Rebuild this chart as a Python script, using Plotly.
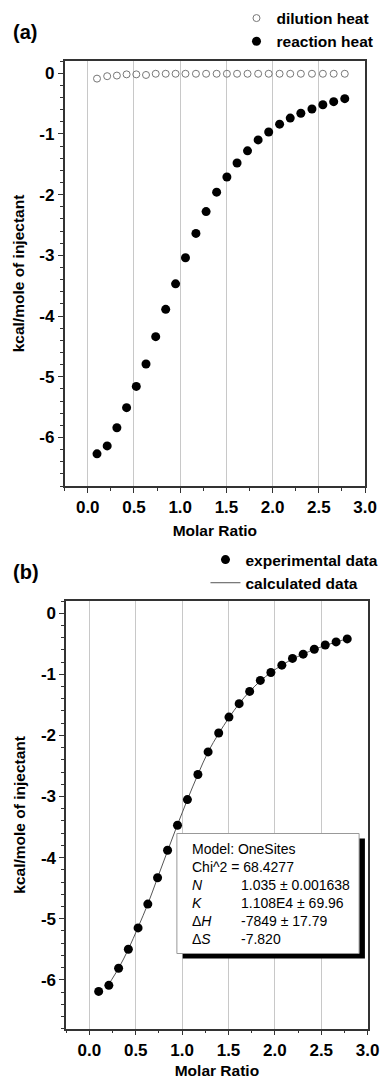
import plotly.graph_objects as go

# ---------------- data ----------------
molar_ratio = [0.100, 0.210, 0.315, 0.420, 0.525, 0.630, 0.735, 0.843, 0.950,
               1.057, 1.170, 1.280, 1.394, 1.505, 1.615, 1.728, 1.843, 1.957,
               2.075, 2.190, 2.305, 2.425, 2.543, 2.660, 2.780]
dilution_heat = [-0.09, -0.05, -0.04, -0.02, -0.02, -0.03, -0.01, -0.01, -0.01,
                 -0.01, -0.01, -0.01, -0.01, -0.01, -0.01, -0.01, -0.01, -0.01,
                 -0.01, -0.01, -0.01, -0.01, -0.01, -0.01, -0.01]
reaction_heat = [-6.27, -6.14, -5.84, -5.51, -5.16, -4.79, -4.34, -3.89, -3.47,
                 -3.04, -2.64, -2.28, -1.96, -1.71, -1.48, -1.28, -1.10, -0.97,
                 -0.84, -0.74, -0.66, -0.59, -0.52, -0.47, -0.42]
experimental_data = [-6.19, -6.09, -5.81, -5.50, -5.15, -4.76, -4.33, -3.88, -3.47,
                     -3.05, -2.64, -2.27, -1.96, -1.70, -1.48, -1.28, -1.10, -0.97,
                     -0.85, -0.74, -0.67, -0.59, -0.52, -0.47, -0.42]
calc_ratio = molar_ratio[1:]
calculated_data = [-6.07, -5.81, -5.50, -5.14, -4.76, -4.33, -3.89, -3.46,
                   -3.05, -2.64, -2.27, -1.97, -1.71, -1.48, -1.28, -1.11, -0.97,
                   -0.85, -0.75, -0.67, -0.59, -0.53, -0.47, -0.42]

x_tickvals = [0.0, 0.5, 1.0, 1.5, 2.0, 2.5, 3.0]
x_ticktext = ["0.0", "0.5", "1.0", "1.5", "2.0", "2.5", "3.0"]
y_tickvals = [0, -1, -2, -3, -4, -5, -6]
y_ticktext = ["0", "-1", "-2", "-3", "-4", "-5", "-6"]

fit_labels = ["Model: OneSites", "Chi^2 = 68.4277", "<i>N</i>", "<i>K</i>",
              "Δ<i>H</i>", "Δ<i>S</i>"]
fit_values = ["", "", "1.035 ± 0.001638", "1.108E4 ± 69.96",
              "-7849 ± 17.79", "-7.820"]

# ---------------- layout helpers ----------------
W, H = 390, 1081
FONT = "Liberation Sans, Arial, sans-serif"
AX = "#333333"


def px(x):
    return x / W


def py(y):
    return 1 - y / H


fig = go.Figure()

# panel (a)
fig.add_trace(go.Scatter(x=molar_ratio, y=dilution_heat, mode="markers",
                         name="dilution heat", xaxis="x", yaxis="y",
                         legend="legend",
                         marker=dict(symbol="circle-open", size=7,
                                     color="#777777", line=dict(width=1))))
fig.add_trace(go.Scatter(x=molar_ratio, y=reaction_heat, mode="markers",
                         name="reaction heat", xaxis="x", yaxis="y",
                         legend="legend",
                         marker=dict(symbol="circle", size=9, color="black")))

# panel (b)
fig.add_trace(go.Scatter(x=calc_ratio, y=calculated_data, mode="lines",
                         name="calculated data", xaxis="x2", yaxis="y2",
                         legend="legend2", legendrank=2,
                         line=dict(color="#555555", width=1, shape="spline")))
fig.add_trace(go.Scatter(x=molar_ratio, y=experimental_data, mode="markers",
                         name="experimental data", xaxis="x2", yaxis="y2",
                         legend="legend2", legendrank=1,
                         marker=dict(symbol="circle", size=9, color="black")))

tickfont = dict(family=FONT, size=17, color="black", weight="bold")
titlefont = dict(family=FONT, size=15.5, color="black", weight="bold")


def xaxis(domain, anchor, standoff):
    return dict(domain=domain, anchor=anchor, range=[-0.25, 3.0],
                tickmode="array", tickvals=x_tickvals, ticktext=x_ticktext,
                ticks="outside", ticklen=5, tickwidth=1.2, tickcolor=AX,
                minor=dict(tickmode="linear", tick0=0, dtick=0.25,
                           ticks="outside", ticklen=3, tickwidth=1.2,
                           tickcolor=AX, showgrid=False),
                showline=True, linecolor=AX, linewidth=1.5, mirror=True,
                showgrid=True, gridcolor="#c8c8c8", gridwidth=1,
                zeroline=False, tickfont=tickfont,
                title=dict(text="Molar Ratio", font=titlefont,
                           standoff=standoff))


def yaxis(domain, anchor):
    return dict(domain=domain, anchor=anchor, range=[-6.8, 0.2],
                tickmode="array", tickvals=y_tickvals, ticktext=y_ticktext,
                ticks="outside", ticklen=5, tickwidth=1.2, tickcolor=AX,
                minor=dict(tickmode="linear", tick0=0, dtick=0.2,
                           ticks="outside", ticklen=3, tickwidth=1.2,
                           tickcolor=AX, showgrid=False),
                showline=True, linecolor=AX, linewidth=1.5, mirror=True,
                showgrid=False, zeroline=False, tickfont=tickfont,
                title=dict(text="kcal/mole of injectant", font=titlefont,
                           standoff=11))


def top_axis(over, anchor):
    return dict(overlaying=over, anchor=anchor, side="top", range=[-0.25, 3.0],
                tickmode="array", tickvals=x_tickvals, showticklabels=False,
                ticks="inside", ticklen=5, tickwidth=1.2, tickcolor=AX,
                minor=dict(tickmode="linear", tick0=0, dtick=0.25,
                           ticks="inside", ticklen=3, tickwidth=1.2,
                           tickcolor=AX),
                showgrid=False, zeroline=False, showline=False)


def right_axis(over, anchor):
    return dict(overlaying=over, anchor=anchor, side="right", range=[-6.8, 0.2],
                tickmode="array", tickvals=y_tickvals, showticklabels=False,
                ticks="inside", ticklen=5, tickwidth=1.2, tickcolor=AX,
                minor=dict(tickmode="linear", tick0=0, dtick=0.2,
                           ticks="inside", ticklen=3, tickwidth=1.2,
                           tickcolor=AX),
                showgrid=False, zeroline=False, showline=False)


dom_ax = [px(66.7), px(376.7)]
dom_ay = [py(486), py(61)]
dom_bx = [px(68.3), px(379.3)]
dom_by = [py(1028.7), py(601)]

legend_font = dict(family=FONT, size=15.5, color="black", weight="bold")

fig.update_layout(
    width=W, height=H,
    margin=dict(l=0, r=0, t=0, b=0),
    paper_bgcolor="white", plot_bgcolor="white",
    font=dict(family=FONT, color="black"),
    xaxis=xaxis(dom_ax, "y", 9),
    yaxis=yaxis(dom_ay, "x"),
    xaxis2=xaxis(dom_bx, "y2", 6),
    yaxis2=yaxis(dom_by, "x2"),
    xaxis3=top_axis("x", "y"),
    yaxis3=right_axis("y", "x"),
    xaxis4=top_axis("x2", "y2"),
    yaxis4=right_axis("y2", "x2"),
    legend=dict(x=px(244), y=py(1.5), xanchor="left", yanchor="top",
                font=legend_font, bgcolor="rgba(0,0,0,0)",
                tracegroupgap=0, itemsizing="trace"),
    legend2=dict(x=px(212), y=py(543), xanchor="left", yanchor="top",
                 font=legend_font, bgcolor="rgba(0,0,0,0)",
                 tracegroupgap=0, traceorder="normal"),
    showlegend=True,
)

# panel labels
for txt, yc in [("(a)", 32), ("(b)", 571.7)]:
    fig.add_annotation(text=txt, x=px(11), y=py(yc), xref="paper", yref="paper",
                       xanchor="left", yanchor="middle", showarrow=False,
                       font=dict(family=FONT, size=20, color="black",
                                 weight="bold"))

# fit-result box with shadow
bx0, bx1, by0, by1 = 182.5, 370.5, 833.5, 953.5
fig.add_shape(type="rect", xref="paper", yref="paper",
              x0=px(bx0 + 6), x1=px(bx1 + 6), y0=py(by1 + 5), y1=py(by0 + 5),
              fillcolor="black", line=dict(width=0), layer="above")
fig.add_shape(type="rect", xref="paper", yref="paper",
              x0=px(bx0), x1=px(bx1), y0=py(by1), y1=py(by0),
              fillcolor="white", line=dict(color="#999999", width=1),
              layer="above")

box_font = dict(family=FONT, size=14, color="black")
for i, (lab, val) in enumerate(zip(fit_labels, fit_values)):
    yc = 848.5 + 18 * i
    fig.add_annotation(text=lab, x=px(196.5), y=py(yc), xref="paper",
                       yref="paper", xanchor="left", yanchor="middle",
                       showarrow=False, font=box_font)
    if val:
        fig.add_annotation(text=val, x=px(246.5), y=py(yc), xref="paper",
                           yref="paper", xanchor="left", yanchor="middle",
                           showarrow=False, font=box_font)

# remove the browser's default 8px body margin so the 390x1081 figure
# fills the window exactly; hide the hover toolbar
fig.write_html("out.html",
               config={"displayModeBar": False},
               post_script="document.body.style.margin='0';")
